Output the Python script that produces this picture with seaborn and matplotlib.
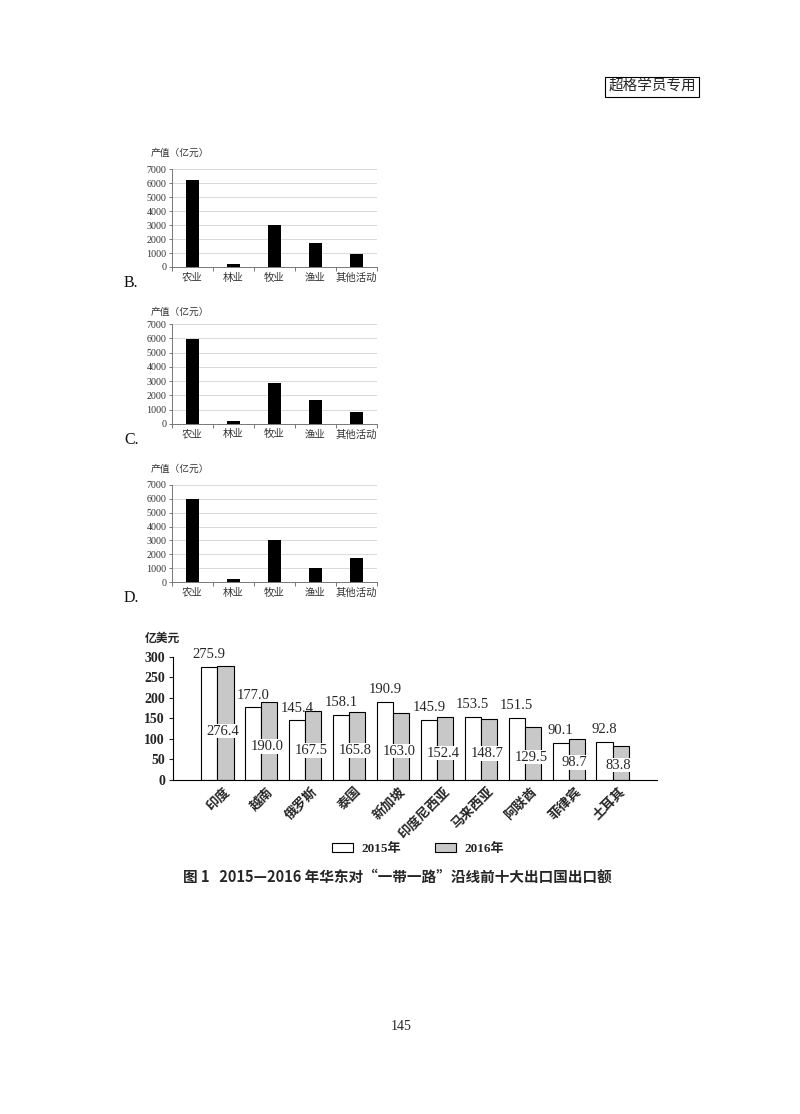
import numpy as np
import pandas as pd
import matplotlib
matplotlib.use("Agg")
import matplotlib.pyplot as plt
import matplotlib.transforms as mtransforms
from matplotlib.font_manager import FontProperties
import seaborn as sns

sns.set_style("white")
plt.rcParams['font.family'] = ['Liberation Serif', 'Noto Sans CJK SC', 'DejaVu Sans']
plt.rcParams['axes.unicode_minus'] = False

# ---------------- data ----------------
sectors = ["农业", "林业", "牧业", "渔业", "其他活动"]
values_B = [6200, 240, 3000, 1750, 950]
values_C = [5950, 210, 2900, 1670, 850]
values_D = [5970, 215, 3010, 1000, 1750]
small_yticks = [0, 1000, 2000, 3000, 4000, 5000, 6000, 7000]

countries = ["印度", "越南", "俄罗斯", "泰国", "新加坡", "印度尼西亚", "马来西亚", "阿联酋", "菲律宾", "土耳其"]
export_2015 = [275.9, 177.0, 145.4, 158.1, 190.9, 145.9, 153.5, 151.5, 90.1, 92.8]
export_2016 = [276.4, 190.0, 167.5, 165.8, 163.0, 152.4, 148.7, 129.5, 98.7, 83.8]
years = ["2015年", "2016年"]
big_yticks = [0, 50, 100, 150, 200, 250, 300]

W, H = 800, 1114
fig = plt.figure(figsize=(W / 100, H / 100), dpi=100)
fig.patch.set_facecolor("white")

def fx(px):
    return px / W

def fy(py):
    return 1 - py / H

cjk = ['Noto Sans CJK SC', 'DejaVu Sans']
serif = ['Liberation Serif', 'DejaVu Serif']

# ---------------- small charts ----------------
small = [("B.", values_B, 169.3, 267.0, 153, 283),
         ("C.", values_C, 324.3, 423.7, 312, 440),
         ("D.", values_D, 484.7, 582.3, 469, 598)]

for letter, vals, ytop, ybot, ylab_y, let_y in small:
    ax = fig.add_axes([fx(172), fy(ybot), fx(377) - fx(172), fy(ytop) - fy(ybot)])
    df = pd.DataFrame({"sector": sectors, "value": vals})
    sns.barplot(data=df, x="sector", y="value", color="black", width=0.32,
                saturation=1, ax=ax, edgecolor="black", linewidth=0)
    ax.set_xlim(-0.5, 4.5)
    ax.set_ylim(0, 7000)
    ax.set_yticks(small_yticks)
    ax.set_yticklabels([str(v) for v in small_yticks], family=serif, fontsize=7.2, color="#333333")
    ax.set_xticks(range(len(sectors)))
    ax.set_xticklabels(sectors, family=cjk, fontsize=7.5, color="#333333")
    ax.set_xticks(np.arange(-0.5, 5, 1), minor=True)
    ax.tick_params(axis="x", which="major", length=0, pad=4)
    ax.tick_params(axis="x", which="minor", length=3, color="#777777", width=0.7, direction="out", bottom=True)
    ax.tick_params(axis="y", length=2, color="#777777", width=0.7, direction="out", left=True, pad=2)
    ax.set_xlabel("")
    ax.set_ylabel("")
    ax.grid(axis="y", color="#d9d9d9", linewidth=0.7)
    ax.set_axisbelow(True)
    for s in ["top", "right"]:
        ax.spines[s].set_visible(False)
    for s in ["left", "bottom"]:
        ax.spines[s].set_color("#777777")
        ax.spines[s].set_linewidth(0.7)
    fig.text(fx(151), fy(ylab_y), "产值（亿元）", family=cjk, fontsize=7, color="#333333",
             ha="left", va="center")
    fig.text(fx(124), fy(let_y), letter, family=serif, fontsize=11.5, color="#111111",
             ha="left", va="center")

# ---------------- main chart ----------------
ax = fig.add_axes([fx(173.3), fy(780), fx(656.7) - fx(173.3), fy(656.7) - fy(780)])
long = pd.DataFrame({
    "country": countries * 2,
    "year": [years[0]] * len(countries) + [years[1]] * len(countries),
    "value": export_2015 + export_2016,
})
sns.barplot(data=long, x="country", y="value", hue="year", hue_order=years,
            palette={years[0]: "white", years[1]: "#c8c8c8"}, saturation=1,
            width=0.74, edgecolor="black", linewidth=0.8, ax=ax)
ax.set_xlim(-1.0, 10.0)
ax.set_ylim(0, 300)
ax.set_yticks(big_yticks)
ax.set_yticklabels([str(v) for v in big_yticks], family=serif, fontsize=10, fontweight="bold")
ax.tick_params(axis="y", length=3, width=0.8, direction="out", left=True, pad=3)
ax.set_xticks(range(len(countries)))
ax.set_xticklabels(countries, family=cjk, fontsize=9.5, fontweight="bold",
                   rotation=45, ha="right", va="top", rotation_mode="anchor")
ax.tick_params(axis="x", length=0, pad=3)
offset = mtransforms.ScaledTranslation(5 / 100, 0, fig.dpi_scale_trans)
for lab in ax.get_xticklabels():
    lab.set_transform(lab.get_transform() + offset)
ax.set_xlabel("")
ax.set_ylabel("")
for s in ["top", "right"]:
    ax.spines[s].set_visible(False)
for s in ["left", "bottom"]:
    ax.spines[s].set_color("black")
    ax.spines[s].set_linewidth(0.8)

handles, labels = ax.get_legend_handles_labels()
ax.get_legend().remove()

# labels for 2015 above white bars
ax.bar_label(ax.containers[0], labels=[f"{v:.1f}" for v in export_2015], padding=4,
             family=serif, fontsize=10.5)
# labels for 2016 inside grey bars
for bar, v in zip(ax.containers[1], export_2016):
    ax.text(bar.get_x() + bar.get_width() / 2 - 0.05, v * 0.43, f"{v:.1f}",
            family=serif, fontsize=10.5, ha="center", va="center",
            bbox=dict(boxstyle="square,pad=0.05", fc="white", ec="none"))

fig.text(fx(145), fy(638), "亿美元", family=cjk, fontsize=8.5, fontweight="bold",
         ha="left", va="center")

fig.legend(handles, labels, loc="center", bbox_to_anchor=(fx(418), fy(849)), ncol=2,
           frameon=False, columnspacing=2.6, handlelength=1.6, handleheight=0.6,
           handletextpad=0.6,
           prop=FontProperties(family=['Liberation Serif', 'Noto Sans CJK SC'], weight="bold", size=9.5))

fig.text(fx(397), fy(877), "图 1   2015—2016 年华东对“一带一路”沿线前十大出口国出口额",
         family=cjk, fontsize=10.5, fontweight="bold", ha="center", va="center")

# header box
fig.text(fx(652), fy(87), "超格学员专用", family=cjk, fontsize=10.5, ha="center", va="center",
         bbox=dict(boxstyle="square,pad=0.2", fc="white", ec="black", lw=0.8))

# page number
fig.text(fx(401), fy(1027), "145", family=serif, fontsize=10, ha="center", va="center")

fig.savefig("out.png", dpi=100, facecolor="white")
